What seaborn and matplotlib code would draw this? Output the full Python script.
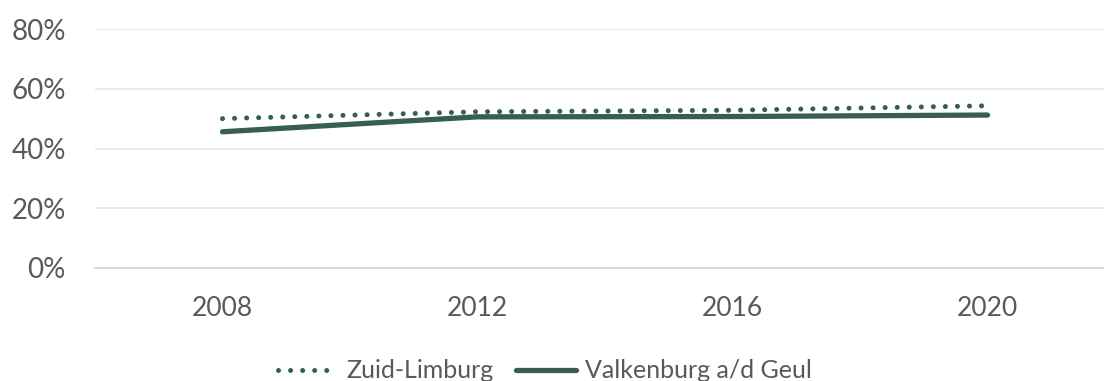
import matplotlib
matplotlib.use("Agg")
import matplotlib.pyplot as plt
from matplotlib.ticker import PercentFormatter
import seaborn as sns
import pandas as pd

years = ["2008", "2012", "2016", "2020"]
zuid_limburg = [0.500, 0.523, 0.528, 0.543]
valkenburg = [0.456, 0.506, 0.507, 0.512]
series_names = ["Zuid-Limburg", "Valkenburg a/d Geul"]

sns.set_theme(style="white")
plt.rcParams["font.family"] = ["Lato", "DejaVu Sans"]

line_color = "#375e53"
text_color = "#595959"
grid_color = "#e6e6e6"

fig = plt.figure(figsize=(11.04, 3.81), dpi=100)
W, H = 1104, 381
ax = fig.add_axes([95 / W, 1 - 268 / H, 1009 / W, 239 / H])

df = pd.DataFrame({"jaar": years, "zl": zuid_limburg, "vk": valkenburg})

sns.lineplot(data=df, x="jaar", y="zl", ax=ax, color=line_color, linewidth=3.6,
             linestyle=(0, (0.01, 2.4)), dash_capstyle="round",
             label=series_names[0], legend=False, sort=False)
sns.lineplot(data=df, x="jaar", y="vk", ax=ax, color=line_color, linewidth=3.8,
             solid_capstyle="round", label=series_names[1], legend=False, sort=False)

ax.set_ylim(0, 0.8)
ax.set_yticks([0, 0.2, 0.4, 0.6, 0.8])
ax.yaxis.set_major_formatter(PercentFormatter(xmax=1, decimals=0))
ax.set_xlim(-0.5, 3.5 - 11 / 255)
ax.set_xlabel("")
ax.set_ylabel("")

ax.grid(axis="y", color=grid_color, linewidth=1.2)
ax.grid(axis="x", visible=False)
for s in ["top", "right", "left"]:
    ax.spines[s].set_visible(False)
ax.spines["bottom"].set_color("#d9d9d9")
ax.spines["bottom"].set_linewidth(1.5)
ax.set_axisbelow(True)

ax.tick_params(axis="y", length=0, labelsize=20, labelcolor=text_color, pad=21)
ax.tick_params(axis="x", length=0, labelsize=19, labelcolor=text_color, pad=20)

handles, labels = ax.get_legend_handles_labels()
fig.legend(handles, labels, loc="center", bbox_to_anchor=(545 / W, 1 - 371 / H),
           ncol=2, frameon=False, fontsize=18, labelcolor=text_color,
           handlelength=2.4, handletextpad=0.35, columnspacing=0.9)

fig.savefig("out.png", dpi=100)
